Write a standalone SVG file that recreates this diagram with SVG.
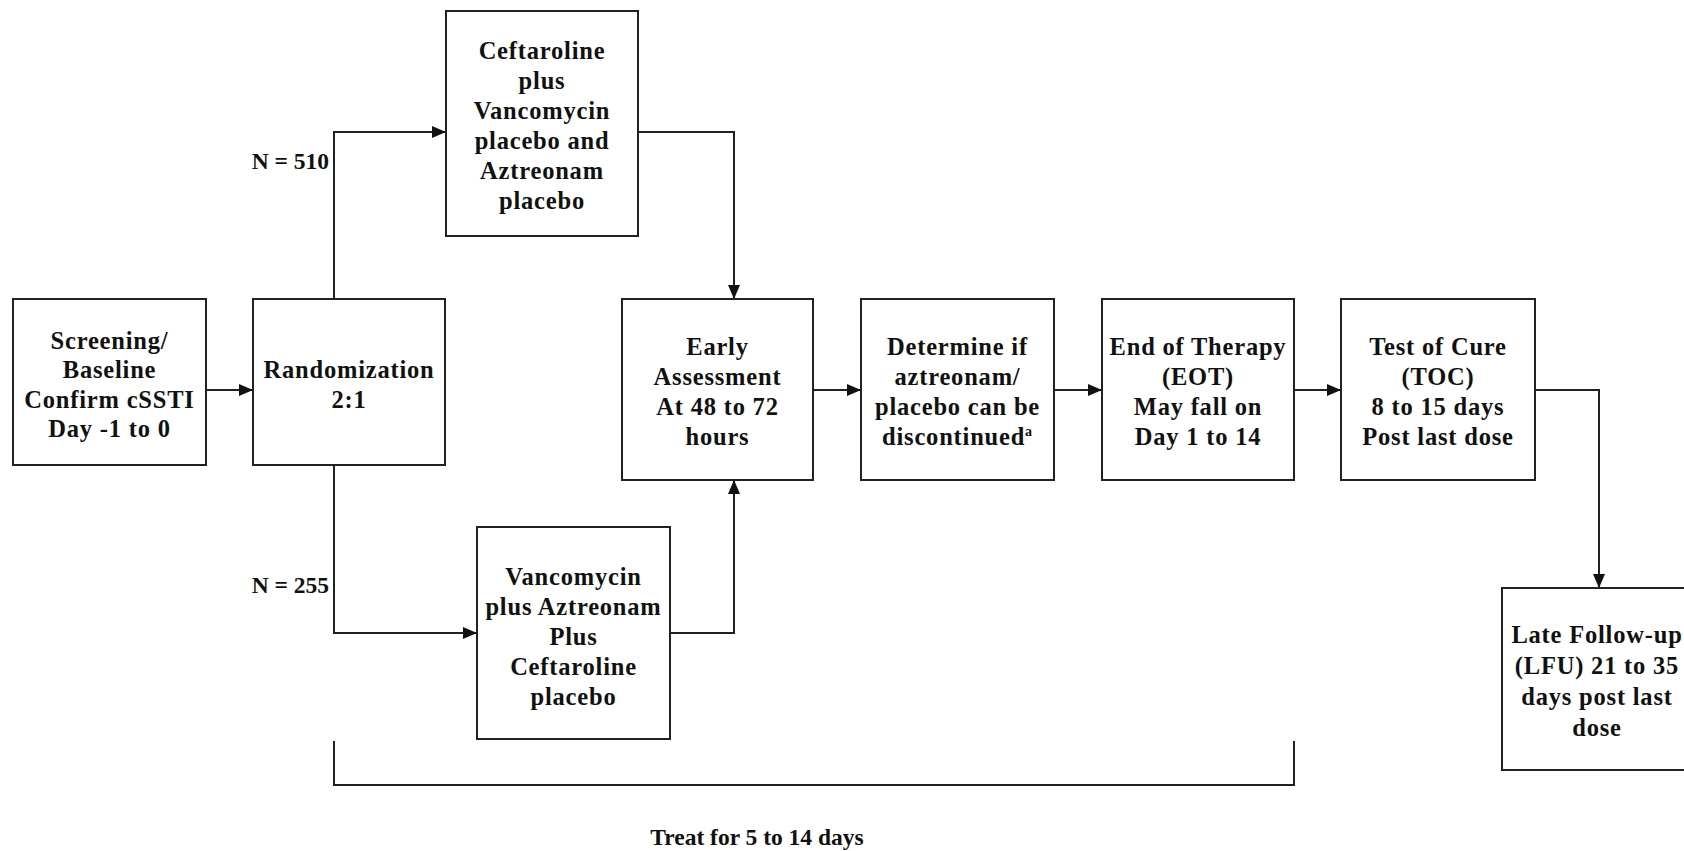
<svg xmlns="http://www.w3.org/2000/svg" width="1684" height="851" viewBox="0 0 1684 851">
<style>
.box{fill:#fff;stroke:#222;stroke-width:2}
.t{font-family:"Liberation Serif","Times New Roman",serif;font-weight:bold;font-size:24.5px;fill:#111;text-anchor:middle;letter-spacing:0.8px}
.lbl{font-family:"Liberation Serif","Times New Roman",serif;font-weight:bold;font-size:23.5px;fill:#111}
.c{fill:none;stroke:#222;stroke-width:2}
</style>
<defs>
<marker id="ah" viewBox="0 0 14 12" refX="14" refY="6" markerWidth="14" markerHeight="12" markerUnits="userSpaceOnUse" orient="auto">
<path d="M0,0 L14,6 L0,12 Z" fill="#111"/>
</marker>
</defs>
<rect width="1684" height="851" fill="#fff"/>
<g id="connectors">
<line class="c" x1="206" y1="390" x2="253" y2="390" marker-end="url(#ah)"/>
<polyline class="c" points="334,299 334,132 446,132" marker-end="url(#ah)"/>
<polyline class="c" points="334,465 334,633 477,633" marker-end="url(#ah)"/>
<polyline class="c" points="638,132 734,132 734,299" marker-end="url(#ah)"/>
<polyline class="c" points="670,633 734,633 734,480" marker-end="url(#ah)"/>
<line class="c" x1="813" y1="390" x2="861" y2="390" marker-end="url(#ah)"/>
<line class="c" x1="1054" y1="390" x2="1102" y2="390" marker-end="url(#ah)"/>
<line class="c" x1="1294" y1="390" x2="1341" y2="390" marker-end="url(#ah)"/>
<polyline class="c" points="1535,390 1599,390 1599,588" marker-end="url(#ah)"/>
<polyline class="c" points="334,741 334,785 1294,785 1294,741"/>
</g>
<g id="labels">
<text class="lbl" x="329" y="169" text-anchor="end">N = 510</text>
<text class="lbl" x="329" y="593" text-anchor="end">N = 255</text>
<text class="lbl" x="757" y="845" text-anchor="middle">Treat for 5 to 14 days</text>
</g>
<g id="screening">
<rect class="box" x="13" y="299" width="193" height="166"/>
<text class="t" x="109.5"><tspan x="109.5" y="349">Screening/</tspan><tspan x="109.5" y="378">Baseline</tspan><tspan x="109.5" y="408">Confirm cSSTI</tspan><tspan x="109.5" y="437">Day -1 to 0</tspan></text>
</g>
<g id="randomization">
<rect class="box" x="253" y="299" width="192" height="166"/>
<text class="t" x="349"><tspan x="349" y="378">Randomization</tspan><tspan x="349" y="408">2:1</tspan></text>
</g>
<g id="ceftaroline">
<rect class="box" x="446" y="11" width="192" height="225"/>
<text class="t" x="542"><tspan x="542" y="59">Ceftaroline</tspan><tspan x="542" y="89">plus</tspan><tspan x="542" y="119">Vancomycin</tspan><tspan x="542" y="149">placebo and</tspan><tspan x="542" y="179">Aztreonam</tspan><tspan x="542" y="209">placebo</tspan></text>
</g>
<g id="vancomycin">
<rect class="box" x="477" y="527" width="193" height="212"/>
<text class="t" x="573.5"><tspan x="573.5" y="585">Vancomycin</tspan><tspan x="573.5" y="615">plus Aztreonam</tspan><tspan x="573.5" y="645">Plus</tspan><tspan x="573.5" y="675">Ceftaroline</tspan><tspan x="573.5" y="705">placebo</tspan></text>
</g>
<g id="early">
<rect class="box" x="622" y="299" width="191" height="181"/>
<text class="t" x="717.5"><tspan x="717.5" y="355">Early</tspan><tspan x="717.5" y="385">Assessment</tspan><tspan x="717.5" y="415">At 48 to 72</tspan><tspan x="717.5" y="445">hours</tspan></text>
</g>
<g id="determine">
<rect class="box" x="861" y="299" width="193" height="181"/>
<text class="t" x="957.5"><tspan x="957.5" y="355">Determine if</tspan><tspan x="957.5" y="385">aztreonam/</tspan><tspan x="957.5" y="415">placebo can be</tspan><tspan x="957.5" y="445">discontinued<tspan font-size="14" dy="-9">a</tspan></tspan></text>
</g>
<g id="eot">
<rect class="box" x="1102" y="299" width="192" height="181"/>
<text class="t" x="1198"><tspan x="1198" y="355">End of Therapy</tspan><tspan x="1198" y="385">(EOT)</tspan><tspan x="1198" y="415">May fall on</tspan><tspan x="1198" y="445">Day 1 to 14</tspan></text>
</g>
<g id="toc">
<rect class="box" x="1341" y="299" width="194" height="181"/>
<text class="t" x="1438"><tspan x="1438" y="355">Test of Cure</tspan><tspan x="1438" y="385">(TOC)</tspan><tspan x="1438" y="415">8 to 15 days</tspan><tspan x="1438" y="445">Post last dose</tspan></text>
</g>
<g id="lfu">
<rect class="box" x="1502" y="588" width="194" height="182"/>
<text class="t" x="1597"><tspan x="1597" y="643">Late Follow-up</tspan><tspan x="1597" y="674">(LFU) 21 to 35</tspan><tspan x="1597" y="705">days post last</tspan><tspan x="1597" y="736">dose</tspan></text>
</g>
</svg>
